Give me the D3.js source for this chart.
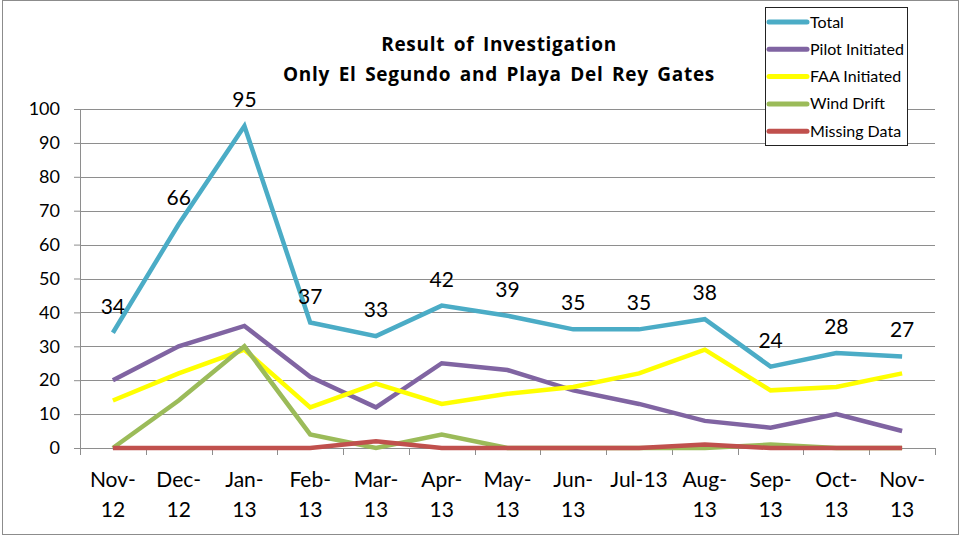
<!DOCTYPE html>
<html>
<head>
<meta charset="utf-8">
<script src="https://cdn.jsdelivr.net/npm/d3@7"></script>
<style>
  body { margin: 0; background: #fff; }
  text { font-family: Lato, "Liberation Sans", sans-serif; }
</style>
</head>
<body>
<div id="chart"></div>
<script>
// chart data
var months = ["Nov-12", "Dec-12", "Jan-13", "Feb-13", "Mar-13", "Apr-13", "May-13",
              "Jun-13", "Jul-13", "Aug-13", "Sep-13", "Oct-13", "Nov-13"];
var seriesNames = ["Total", "Pilot Initiated", "FAA Initiated", "Wind Drift", "Missing Data"];
var total = [34, 66, 95, 37, 33, 42, 39, 35, 35, 38, 24, 28, 27];
var pilot = [20, 30, 36, 21, 12, 25, 23, 17, 13, 8, 6, 10, 5];
var faa = [14, 22, 29, 12, 19, 13, 16, 18, 22, 29, 17, 18, 22];
var wind = [0, 14, 30, 4, 0, 4, 0, 0, 0, 0, 1, 0, 0];
var missing = [0, 0, 0, 0, 2, 0, 0, 0, 0, 1, 0, 0, 0];
var yTicks = [0, 10, 20, 30, 40, 50, 60, 70, 80, 90, 100];

var colors = ["#4bacc6", "#8064a2", "#ffff00", "#9bbb59", "#c0504d"];
var allSeries = [total, pilot, faa, wind, missing];

var W = 961, H = 537;
var margin = {top: 109, right: 26, bottom: 89, left: 80};
var width = W - margin.left - margin.right,
    height = H - margin.top - margin.bottom;

var svg = d3.select("#chart").append("svg")
    .attr("width", W)
    .attr("height", H);

// outer frame
svg.append("rect")
    .attr("x", 2.5).attr("y", 0.5)
    .attr("width", W - 5).attr("height", H - 3)
    .attr("fill", "none")
    .attr("stroke", "#8c8c8c");

var g = svg.append("g")
    .attr("transform", "translate(" + margin.left + "," + margin.top + ")");

var x = d3.scaleBand().domain(months).range([0, width]);
var y = d3.scaleLinear().domain([0, 100]).range([height, 0]);

// gridlines
g.selectAll(".grid")
    .data(yTicks.slice(1))
    .enter().append("line")
    .attr("class", "grid")
    .attr("x1", 0).attr("x2", width)
    .attr("y1", function(d) { return Math.round(y(d)) + 0.5; })
    .attr("y2", function(d) { return Math.round(y(d)) + 0.5; })
    .attr("stroke", "#8e8e8e");

// y axis
var yAxis = d3.axisLeft(y).tickValues(yTicks).tickSize(6).tickPadding(14);
var ya = g.append("g").attr("class", "y axis").call(yAxis);
ya.select(".domain").attr("stroke", "#8e8e8e");
ya.selectAll(".tick line").attr("stroke", "#8e8e8e");
ya.selectAll(".tick text")
    .style("font-size", "18px")
    .attr("fill", "#000");

// x axis
var xa = g.append("g")
    .attr("transform", "translate(0," + height + ")");
xa.append("line")
    .attr("x1", 0).attr("x2", width)
    .attr("y1", 0.5).attr("y2", 0.5)
    .attr("stroke", "#8e8e8e");
xa.selectAll(".xtick")
    .data(d3.range(months.length + 1))
    .enter().append("line")
    .attr("class", "xtick")
    .attr("x1", function(i) { return Math.round(i * x.step()) + 0.5; })
    .attr("x2", function(i) { return Math.round(i * x.step()) + 0.5; })
    .attr("y1", 0).attr("y2", 7)
    .attr("stroke", "#8e8e8e");

var xl = xa.selectAll(".xlab")
    .data(months)
    .enter().append("text")
    .attr("class", "xlab")
    .attr("text-anchor", "middle")
    .style("font-size", "21px")
    .attr("transform", function(d) { return "translate(" + (x(d) + x.bandwidth() / 2) + ",0)"; });
xl.each(function(d) {
    var t = d3.select(this);
    if (d == "Jul-13") {
        t.append("tspan").attr("x", 0).attr("y", 39).text(d);
    } else {
        var parts = d.split("-");
        t.append("tspan").attr("x", 0).attr("y", 39).text(parts[0] + "-");
        t.append("tspan").attr("x", 0).attr("y", 69).text(parts[1]);
    }
});

// lines
var line = d3.line()
    .x(function(d, i) { return x(months[i]) + x.bandwidth() / 2; })
    .y(function(d) { return y(d); });

g.selectAll(".series")
    .data(allSeries)
    .enter().append("path")
    .attr("class", "series")
    .attr("d", line)
    .attr("fill", "none")
    .attr("stroke", function(d, i) { return colors[i]; })
    .attr("stroke-width", 4.5)
    .attr("stroke-linejoin", "miter");

// labels on total
g.selectAll(".vlab")
    .data(total)
    .enter().append("text")
    .attr("class", "vlab")
    .attr("x", function(d, i) { return x(months[i]) + x.bandwidth() / 2; })
    .attr("y", function(d) { return y(d) - 19; })
    .attr("text-anchor", "middle")
    .style("font-size", "21px")
    .text(function(d) { return d; });

// title
var title = svg.append("text")
    .attr("text-anchor", "middle")
    .style("font-family", "'Open Sans', Lato, sans-serif")
    .style("font-size", "19px")
    .style("font-weight", "bold")
    .style("letter-spacing", "0.7px")
    .style("word-spacing", "3px");
title.append("tspan").attr("x", 499).attr("y", 51).text("Result of Investigation");
title.append("tspan").attr("x", 499).attr("y", 81).text("Only El Segundo and Playa Del Rey Gates");

// legend
var legend = svg.append("g").attr("transform", "translate(765,7)");
legend.append("rect")
    .attr("x", 0.5).attr("y", 0.5)
    .attr("width", 142).attr("height", 138)
    .attr("fill", "#fff")
    .attr("stroke", "#222");

var items = legend.selectAll(".item")
    .data(seriesNames)
    .enter().append("g")
    .attr("transform", function(d, i) { return "translate(0," + (15 + i * 27.3) + ")"; });
items.append("line")
    .attr("x1", 4).attr("x2", 42)
    .attr("stroke", function(d, i) { return colors[i]; })
    .attr("stroke-width", 5)
    .attr("stroke-linecap", "round");
items.append("text")
    .attr("x", 45).attr("y", 5.5)
    .style("font-size", "16px")
    .text(function(d) { return d; });
</script>
</body>
</html>
